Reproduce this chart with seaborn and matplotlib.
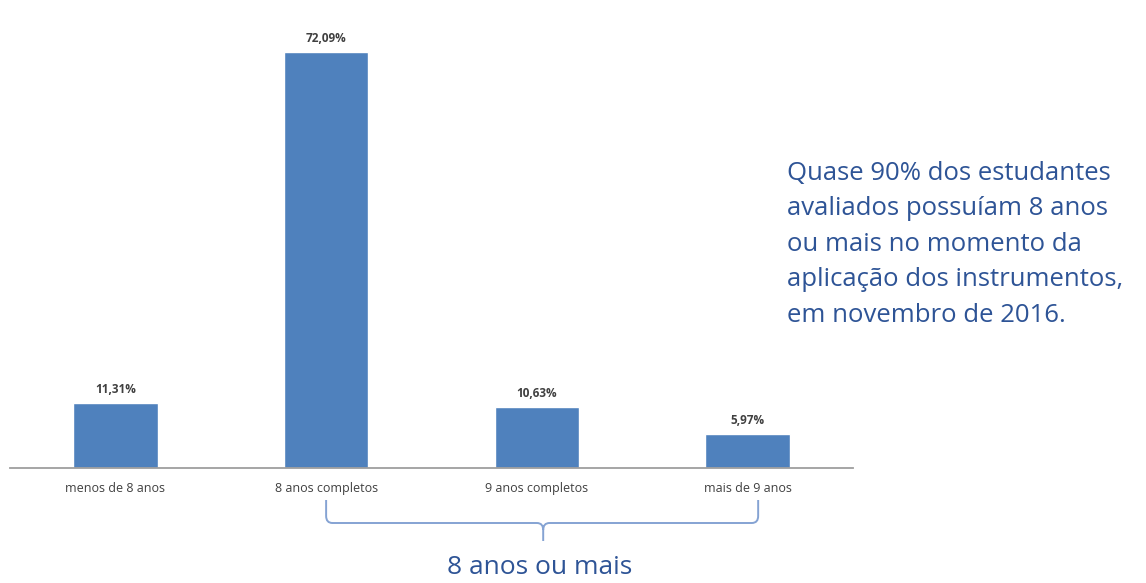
import matplotlib
matplotlib.use("Agg")
import matplotlib.pyplot as plt
import matplotlib.transforms as mtransforms
from matplotlib.path import Path
from matplotlib.patches import PathPatch
import seaborn as sns
import pandas as pd

categories = ["menos de 8 anos", "8 anos completos", "9 anos completos", "mais de 9 anos"]
values = [11.31, 72.09, 10.63, 5.97]
value_labels = ["11,31%", "72,09%", "10,63%", "5,97%"]
note_lines = [
    "Quase 90% dos estudantes",
    "avaliados possuíam 8 anos",
    "ou mais no momento da",
    "aplicação dos instrumentos,",
    "em novembro de 2016.",
]
group_label = "8 anos ou mais"

sns.set_theme(style="white")
plt.rcParams["font.family"] = ["Open Sans", "DejaVu Sans"]

W, H = 1146, 583
fig = plt.figure(figsize=(W / 100, H / 100), dpi=100)
fig.patch.set_facecolor("white")

ax_left, ax_right, ax_base, ax_top = 10, 853, 468, 20
ax = fig.add_axes([ax_left / W, 1 - ax_base / H, (ax_right - ax_left) / W, (ax_base - ax_top) / H])

df = pd.DataFrame({"cat": categories, "val": values})
sns.barplot(data=df, x="cat", y="val", color="#4F81BD", saturation=1, width=0.4, ax=ax)

ax.set_xlim(-0.5, 3.5)
ax.set_ylim(0, 72.09 * (ax_base - ax_top) / (ax_base - 52))
ax.set_xlabel("")
ax.set_ylabel("")
ax.set_yticks([])
for s in ["top", "right", "left"]:
    ax.spines[s].set_visible(False)
ax.spines["bottom"].set_color("#9e9e9e")
ax.spines["bottom"].set_linewidth(1.3)
ax.tick_params(axis="x", length=0, pad=10, labelsize=9, labelcolor="#404040")

for i, (v, lab) in enumerate(zip(values, value_labels)):
    ax.annotate(lab, (i, v), xytext=(0, 5), textcoords="offset points",
                ha="center", va="bottom", fontsize=8.5, fontweight="bold", color="#404040")

# explanatory note on the right
fig.text(787 / W, 1 - 161 / H, "\n".join(note_lines), ha="left", va="top",
         fontsize=18.5, color="#2E5496", linespacing=1.55)

# curly brace grouping the last three categories
trans = mtransforms.blended_transform_factory(ax.transData, fig.transFigure)
x0, x1, xm = 1.0, 3.05, 2.03
y_top, y_mid, y_tip = 1 - 500 / H, 1 - 523 / H, 1 - 541 / H
dx = 0.03
dy = 0.012
verts = [
    (x0, y_top), (x0, y_mid + dy), (x0, y_mid), (x0 + dx, y_mid),
    (xm - dx, y_mid), (xm, y_mid), (xm, y_mid - dy), (xm, y_tip),
    (xm, y_mid - dy), (xm, y_mid), (xm + dx, y_mid),
    (x1 - dx, y_mid), (x1, y_mid), (x1, y_mid + dy), (x1, y_top),
]
codes = [Path.MOVETO, Path.LINETO, Path.CURVE3, Path.CURVE3,
         Path.LINETO, Path.CURVE3, Path.CURVE3, Path.LINETO,
         Path.MOVETO, Path.CURVE3, Path.CURVE3,
         Path.LINETO, Path.CURVE3, Path.CURVE3, Path.LINETO]
brace = PathPatch(Path(verts, codes), transform=trans, fill=False,
                  edgecolor="#85A3D3", linewidth=1.4, clip_on=False)
fig.add_artist(brace)

fig.text(540 / W, 1 - 567 / H, group_label, ha="center", va="center",
         fontsize=19, color="#2E5496")

fig.savefig("out.png", dpi=100, facecolor="white")
